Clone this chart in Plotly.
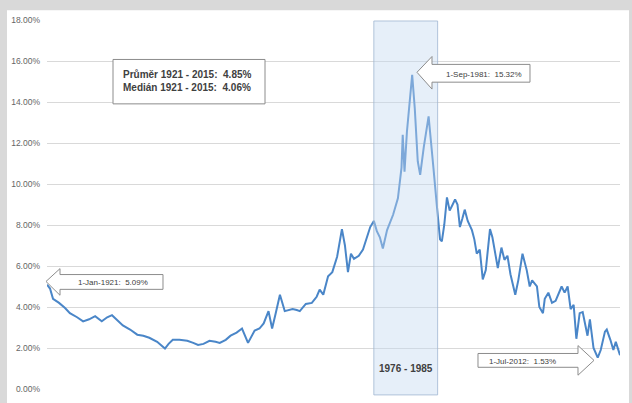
import plotly.graph_objects as go

# ---- data (decimal year, yield %) ----
years = [1921.0, 1921.5, 1922.0, 1923.0, 1924.0, 1924.8, 1926.0, 1927.0, 1928.0, 1929.0,
         1930.1, 1931.0, 1931.8, 1932.5, 1933.6, 1934.8, 1936.0, 1937.0, 1938.0, 1939.3,
         1940.6, 1941.2, 1941.9, 1943.0, 1944.3, 1945.3, 1946.1, 1947.0, 1948.0, 1949.0,
         1949.7, 1950.7, 1951.5, 1952.5, 1953.4, 1954.4, 1955.5, 1956.3, 1957.0, 1957.8,
         1958.4, 1959.0, 1959.7, 1960.5, 1961.2, 1961.8, 1962.5, 1963.0, 1964.0, 1965.0,
         1965.8, 1966.3, 1966.9, 1967.7, 1968.4, 1969.2, 1970.0, 1970.5, 1971.0, 1971.5,
         1972.0, 1972.8, 1973.5, 1974.2, 1974.7, 1975.3, 1975.8, 1976.3, 1976.8, 1977.5,
         1978.5, 1979.3, 1979.9, 1980.1, 1980.4, 1980.8, 1981.3, 1981.67, 1982.1, 1982.6,
         1983.0, 1983.6, 1984.4, 1984.8, 1985.2, 1985.8, 1986.3, 1986.6, 1987.0, 1987.45,
         1987.9, 1988.4, 1988.8, 1989.2, 1989.6, 1990.0, 1990.4, 1990.9, 1991.6, 1992.0,
         1992.4, 1992.9, 1993.4, 1993.9, 1994.6, 1995.0, 1995.9, 1996.5, 1997.0, 1997.5,
         1998.0, 1998.8, 1999.3, 2000.0, 2000.7, 2001.2, 2001.6, 2002.4, 2002.8, 2003.4,
         2003.7, 2004.3, 2004.9, 2005.5, 2006.5, 2007.0, 2007.5, 2008.0, 2008.5, 2008.95,
         2009.5, 2010.0, 2010.8, 2011.2, 2011.8, 2012.5, 2013.0, 2013.7, 2014.0, 2014.6,
         2015.1, 2015.5, 2016.0, 2016.2]
rates = [5.09, 4.9, 4.4, 4.2, 3.95, 3.7, 3.5, 3.3, 3.4, 3.55,
         3.3, 3.5, 3.6, 3.4, 3.1, 2.9, 2.65, 2.6, 2.5, 2.3,
         1.97, 2.2, 2.4, 2.4, 2.35, 2.25, 2.15, 2.2, 2.35, 2.3,
         2.25, 2.4, 2.6, 2.75, 2.95, 2.25, 2.85, 2.95, 3.2, 3.8,
         2.95, 3.7, 4.6, 3.8, 3.85, 3.9, 3.85, 3.8, 4.15, 4.2,
         4.5, 4.85, 4.6, 5.5, 5.7, 6.45, 7.8, 7.0, 5.7, 6.6,
         6.35, 6.5, 6.8, 7.4, 7.9, 8.2, 7.7, 7.4, 6.85, 7.75,
         8.5, 9.3, 10.8, 12.4, 10.6, 12.55, 14.0, 15.32, 13.7, 11.1,
         10.45, 11.8, 13.3, 11.9, 10.8, 8.85, 7.3, 7.2, 8.0, 9.35,
         8.7, 9.0, 9.25, 9.0, 7.9, 8.3, 8.75, 8.2, 7.75, 7.3,
         6.6, 6.8, 5.35, 5.8, 7.8, 7.4, 5.9, 6.9, 6.3, 6.5,
         5.6, 4.6, 5.3, 6.6, 5.8, 5.0, 5.3, 5.0, 4.0, 3.7,
         4.4, 4.7, 4.2, 4.3, 5.0, 4.7, 5.0, 3.9, 4.1, 2.45,
         3.7, 3.75, 2.6, 3.4, 2.0, 1.53, 1.9, 2.8, 2.9, 2.4,
         1.9, 2.3, 1.9, 1.65]

y_ticks = [0, 2, 4, 6, 8, 10, 12, 14, 16, 18]
y_tick_labels = ["0.00%", "2.00%", "4.00%", "6.00%", "8.00%", "10.00%",
                 "12.00%", "14.00%", "16.00%", "18.00%"]
band_years = [1975.3, 1985.9]
band_label = "1976 - 1985"
stats_lines = ["Průměr 1921 - 2015:  4.85%", "Medián 1921 - 2015:  4.06%"]
callout_texts = ["1-Jan-1921:  5.09%", "1-Sep-1981:  15.32%", "1-Jul-2012:  1.53%"]

# ---- layout geometry (pixels of the 632x403 page) ----
W, H = 632, 403
L, R, T, B = 47, 12, 20, 9
PW, PH = W - L - R, H - T - B


def px(x):
    return (x - L) / PW


def py(y):
    return (H - B - y) / PH


def path(points):
    return "M " + " L ".join(f"{px(x):.5f},{py(y):.5f}" for x, y in points) + " Z"


FONT = "Liberation Sans, Arial, sans-serif"
TXT = "#404040"
EDGE = "#8c8c8c"
FRAME = "#d9d9d9"

fig = go.Figure()
fig.add_trace(go.Scatter(x=years, y=rates, mode="lines",
                         line=dict(color="#4a86c8", width=2), hoverinfo="skip",
                         showlegend=False))

shapes = []
# highlighted period
shapes.append(dict(type="rect", xref="x", yref="paper", layer="above",
                   x0=band_years[0], x1=band_years[1], y0=py(400), y1=py(21),
                   fillcolor="rgba(196,216,240,0.42)",
                   line=dict(color="rgba(160,182,210,0.8)", width=1)))
# stats box
shapes.append(dict(type="rect", xref="paper", yref="paper", layer="above",
                   x0=px(113), x1=px(265), y0=py(105), y1=py(60),
                   fillcolor="white", line=dict(color=EDGE, width=1)))
# callout arrows
shapes.append(dict(type="path", xref="paper", yref="paper", layer="above",
                   path=path([(46, 285), (60, 272), (60, 278), (163, 278),
                              (163, 293), (60, 293), (60, 299)]),
                   fillcolor="white", line=dict(color=EDGE, width=1)))
shapes.append(dict(type="path", xref="paper", yref="paper", layer="above",
                   path=path([(417, 73), (432, 57), (432, 65), (530, 65),
                              (530, 83), (432, 83), (432, 90)]),
                   fillcolor="white", line=dict(color=EDGE, width=1)))
shapes.append(dict(type="path", xref="paper", yref="paper", layer="above",
                   path=path([(478, 358), (578, 358), (578, 350), (594, 365),
                              (578, 380), (578, 372), (478, 372)]),
                   fillcolor="white", line=dict(color=EDGE, width=1)))
# grey outer frame strips
for (a, b, c, d) in [(-5, -5, 640, 10), (-5, -5, 7, 410), (629, -5, 640, 410)]:
    shapes.append(dict(type="rect", xref="paper", yref="paper", layer="above",
                       x0=px(a), x1=px(c), y0=py(d), y1=py(b),
                       fillcolor=FRAME, line=dict(width=0)))

annotations = []
annotations.append(dict(xref="paper", yref="paper", x=px(121), y=py(82),
                        xanchor="left", yanchor="middle", showarrow=False, align="left",
                        text="<b>" + stats_lines[0] + "</b><br><b>" + stats_lines[1] + "</b>",
                        font=dict(family=FONT, size=10, color=TXT)))
annotations.append(dict(xref="paper", yref="paper", x=px(113), y=py(286),
                        xanchor="center", yanchor="middle", showarrow=False,
                        text=callout_texts[0], font=dict(family=FONT, size=8, color=TXT)))
annotations.append(dict(xref="paper", yref="paper", x=px(484), y=py(75),
                        xanchor="center", yanchor="middle", showarrow=False,
                        text=callout_texts[1], font=dict(family=FONT, size=8, color=TXT)))
annotations.append(dict(xref="paper", yref="paper", x=px(522), y=py(366),
                        xanchor="center", yanchor="middle", showarrow=False,
                        text=callout_texts[2], font=dict(family=FONT, size=8, color=TXT)))
annotations.append(dict(xref="x", yref="paper", x=sum(band_years) / 2, y=py(373),
                        xanchor="center", yanchor="middle", showarrow=False,
                        text="<b>" + band_label + "</b>",
                        font=dict(family=FONT, size=10, color=TXT)))

fig.update_layout(
    width=W, height=H,
    margin=dict(l=L, r=R, t=T, b=B, pad=0),
    paper_bgcolor="white", plot_bgcolor="white",
    shapes=shapes, annotations=annotations, showlegend=False,
    xaxis=dict(range=[1921, 2016.2], showgrid=False, zeroline=False,
               showticklabels=False, showline=False, fixedrange=True),
    yaxis=dict(range=[0, 18], tickvals=y_ticks, ticktext=y_tick_labels,
               showgrid=True, gridcolor="#d9d9d9", gridwidth=1, zeroline=False,
               showline=False, ticks="", ticklabelstandoff=6,
               tickfont=dict(family=FONT, size=8.5, color="#666666")),
)

fig.write_html("out.html")
